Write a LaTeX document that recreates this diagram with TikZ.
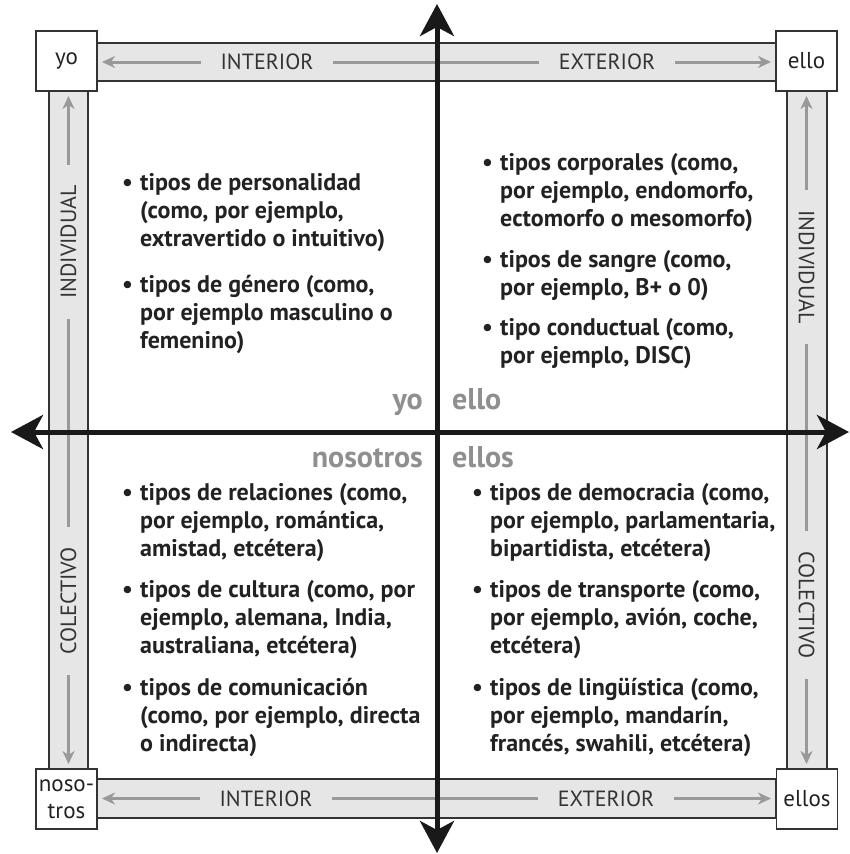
\documentclass[tikz,border=0pt]{standalone}
\usepackage{fontspec}
\setmainfont{PT Sans}
\usetikzlibrary{arrows.meta}
\definecolor{bandfill}{HTML}{E6E6E6}
\definecolor{bandline}{HTML}{333333}
\definecolor{arrgray}{HTML}{999999}
\definecolor{quadgray}{HTML}{8F8F8F}
\definecolor{txt}{HTML}{222222}
\newcommand\bul[1]{\begin{tabular}[t]{@{}p{18pt}@{}l@{}}\textbullet&\begin{tabular}[t]{@{}l@{}}#1\end{tabular}\end{tabular}}
\begin{document}
\begin{tikzpicture}[x=1pt,y=-1pt,
 band/.style={draw=bandline, line width=2pt, fill=bandfill, inner sep=0pt},
 cornerbox/.style={draw=bandline, line width=1.6pt, fill=white, minimum width=61pt, minimum height=60pt, inner sep=0pt, font=\fontsize{23}{27}\selectfont, text=txt, align=center},
 bandlabel/.style={fill=bandfill, inner xsep=20pt, inner ysep=2pt, text=bandline, font=\fontsize{22}{24}\selectfont},
 bandarrow/.style={draw=arrgray, line width=3pt, {Stealth[length=13pt,width=12pt,inset=4pt]}-{Stealth[length=13pt,width=12pt,inset=4pt]}, shorten <=6pt, shorten >=6pt},
 axis/.style={draw=black!90, line width=5pt, {Stealth[length=32pt,width=34pt,inset=9pt]}-{Stealth[length=32pt,width=34pt,inset=9pt]}},
 quad/.style={font=\bfseries\fontsize{30}{32}\selectfont, text=quadgray, inner sep=0pt},
 item/.style={anchor=base west, inner sep=0pt, text=txt, font=\bfseries\fontsize{24}{28}\selectfont}
]
\path[use as bounding box, fill=white] (0,0) rectangle (850,854);

% bands
\node[band, minimum width=679pt, minimum height=38pt] (topband) at (436.5,62) {};
\node[band, minimum width=679pt, minimum height=39pt] (botband) at (436.5,798.5) {};
\node[band, minimum width=39pt, minimum height=678pt] (leftband) at (68.5,430) {};
\node[band, minimum width=40pt, minimum height=678pt] (rightband) at (806.5,430) {};

% corner boxes
\node[cornerbox] (cyo) at (66.5,61) {yo};
\node[cornerbox] (cello) at (806.5,61) {ello};
\node[cornerbox] (cnos) at (66.5,799) {noso-\\tros};
\node[cornerbox] (cellos) at (807,799) {ellos};

% band arrows
\draw[bandarrow] (topband.west) -- (topband.east);
\draw[bandarrow] (botband.west) -- (botband.east);
\draw[bandarrow] (leftband.north) -- (leftband.south);
\draw[bandarrow] (rightband.north) -- (rightband.south);

% band labels
\node[bandlabel] (tint) at (267,62) {INTERIOR};
\node[bandlabel] (text) at (607,62) {EXTERIOR};
\node[bandlabel] (bint) at (266,799) {INTERIOR};
\node[bandlabel] (bext) at (606,799) {EXTERIOR};
\node[bandlabel, rotate=90] (lind) at (68.5,242) {INDIVIDUAL};
\node[bandlabel, rotate=90] (lcol) at (68.5,601) {COLECTIVO};
\node[bandlabel, rotate=-90] (rind) at (806.5,267) {INDIVIDUAL};
\node[bandlabel, rotate=-90] (rcol) at (806.5,605) {COLECTIVO};

% axes
\coordinate (axN) at (437,4);
\coordinate (axS) at (437,853);
\coordinate (axW) at (11,432);
\coordinate (axE) at (849,432);
\draw[axis] (axW) -- (axE);
\draw[axis] (axN) -- (axS);

% quadrant names
\node[quad, anchor=base east] (qyo) at (423,409) {yo};
\node[quad, anchor=base west] (qello) at (452,409) {ello};
\node[quad, anchor=base east] (qnos) at (423,467) {nosotros};
\node[quad, anchor=base west] (qellos) at (452,467) {ellos};

% quadrant texts
\node[item] (tl1) at (122,190) {\bul{tipos de personalidad\\(como, por ejemplo,\\extravertido o intuitivo)}};
\node[item] (tl2) at (122,292) {\bul{tipos de género (como,\\por ejemplo masculino o\\femenino)}};
\node[item] (tr1) at (482,170) {\bul{tipos corporales (como,\\por ejemplo, endomorfo,\\ectomorfo o mesomorfo)}};
\node[item] (tr2) at (482,267) {\bul{tipos de sangre (como,\\por ejemplo, B+ o 0)}};
\node[item] (tr3) at (482,335) {\bul{tipo conductual (como,\\por ejemplo, DISC)}};
\node[item] (bl1) at (122,500) {\bul{tipos de relaciones (como,\\por ejemplo, romántica,\\amistad, etcétera)}};
\node[item] (bl2) at (122,597) {\bul{tipos de cultura (como, por\\ejemplo, alemana, India,\\australiana, etcétera)}};
\node[item] (bl3) at (122,695) {\bul{tipos de comunicación\\(como, por ejemplo, directa\\o indirecta)}};
\node[item] (br1) at (472,500) {\bul{tipos de democracia (como,\\por ejemplo, parlamentaria,\\bipartidista, etcétera)}};
\node[item] (br2) at (472,597) {\bul{tipos de transporte (como,\\por ejemplo, avión, coche,\\etcétera)}};
\node[item] (br3) at (472,695) {\bul{tipos de lingüística (como,\\por ejemplo, mandarín,\\francés, swahili, etcétera)}};
\end{tikzpicture}
\end{document}
